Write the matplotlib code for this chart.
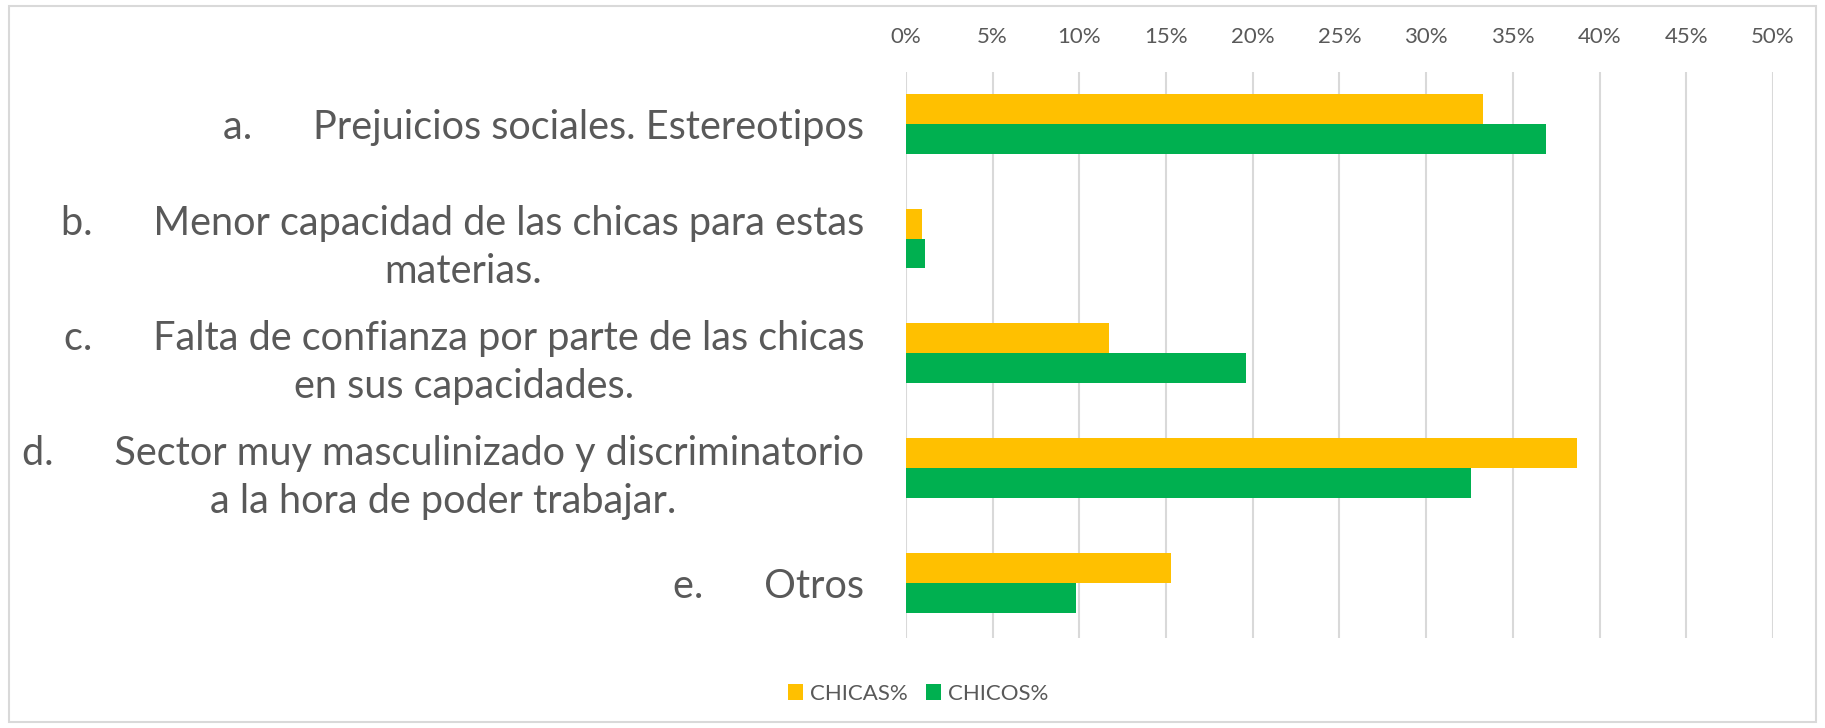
import numpy as np
import matplotlib.pyplot as plt
from matplotlib.patches import Rectangle
from matplotlib.ticker import PercentFormatter

# data
categories = ['a.      Prejuicios sociales. Estereotipos',
              'b.      Menor capacidad de las chicas para estas\nmaterias.',
              'c.      Falta de confianza por parte de las chicas\nen sus capacidades.',
              'd.      Sector muy masculinizado y discriminatorio\na la hora de poder trabajar.',
              'e.      Otros']
chicas = [0.333, 0.009, 0.117, 0.387, 0.153]
chicos = [0.369, 0.011, 0.196, 0.326, 0.098]
series_names = ['CHICAS%', 'CHICOS%']
colors = ['#FFC000', '#00B050']

plt.rcParams['font.family'] = ['Lato', 'DejaVu Sans']
txt = '#595959'

fig = plt.figure(figsize=(18.25, 7.28), dpi=100)
ax = fig.add_axes([0.4964, 0.1236, 0.4751, 0.7774])

index = np.arange(len(categories))
h = 0.26
ax.barh(index - h / 2, chicas, h, color=colors[0], label=series_names[0])
ax.barh(index + h / 2, chicos, h, color=colors[1], label=series_names[1])

ax.set_xlim(0, 0.5)
ax.set_ylim(4.48, -0.45)
ax.set_xticks(np.arange(0, 0.501, 0.05))
ax.xaxis.set_major_formatter(PercentFormatter(1.0, decimals=0))
ax.xaxis.tick_top()
ax.tick_params(axis='x', length=0, pad=18, labelsize=16, labelcolor=txt)
ax.set_yticks(index)
ax.set_yticklabels(categories, fontsize=28.5, color=txt, multialignment='center',
                   linespacing=1.38)
ax.tick_params(axis='y', length=0, pad=30)
ax.grid(axis='x', color='#D9D9D9', lw=1.5)
ax.set_axisbelow(True)
for s in ax.spines.values():
    s.set_visible(False)

fig.legend(loc='center', bbox_to_anchor=(0.503, 0.047), ncol=2, frameon=False,
           fontsize=16, labelcolor=txt, handlelength=0.7, handleheight=0.7,
           columnspacing=0.8, handletextpad=0.3)

fig.patches.append(Rectangle((0.005, 0.008), 0.99, 0.984, transform=fig.transFigure,
                             fill=False, edgecolor='#D9D9D9', lw=1.5))

fig.savefig('out.png', dpi=100)
